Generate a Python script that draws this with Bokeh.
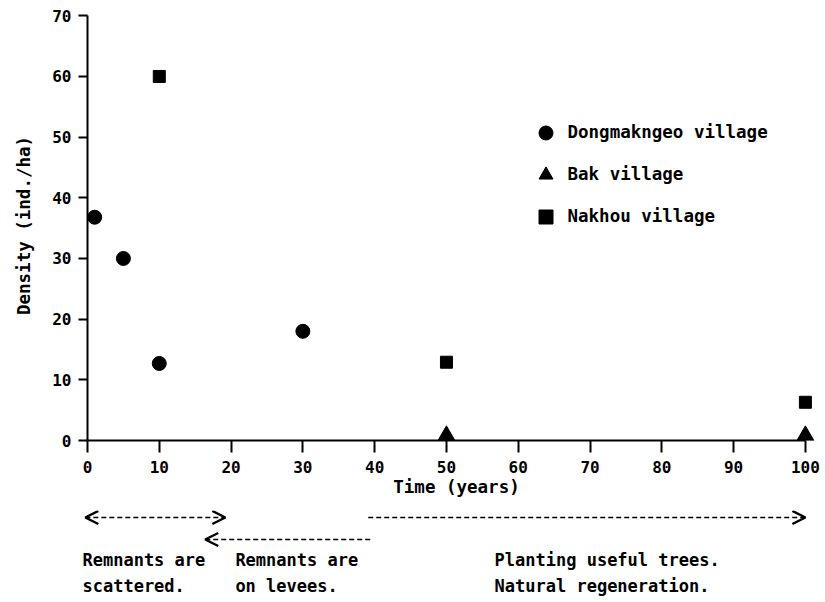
from bokeh.plotting import figure
from bokeh.models import (Range1d, LinearAxis, FixedTicker, Legend, LegendItem,
                          Arrow, OpenHead)
from bokeh.embed import file_html
from bokeh.resources import INLINE
from bokeh.core.properties import value

# ---------------- data ----------------
series_names = ["Dongmakngeo village", "Bak village", "Nakhou village"]
dong_years = [1, 5, 10, 30]
dong_density = [36.8, 30, 12.7, 18]
bak_years = [50, 100]
bak_density = [0.8, 0.8]
nakhou_years = [10, 50, 100]
nakhou_density = [60, 12.9, 6.3]

x_ticks = [0, 10, 20, 30, 40, 50, 60, 70, 80, 90, 100]
y_ticks = [0, 10, 20, 30, 40, 50, 60, 70]

period_start = [-0.3, 16.4, 39.1]
period_end = [19.2, 39.6, 100]
period_heads = ["both", "start", "end"]
period_labels = ["Remnants are\nscattered.",
                 "Remnants are\non levees.",
                 "Planting useful trees.\nNatural regeneration."]

# ---------------- layout ----------------
FONT = "DejaVu Sans Mono"
W = 825
H1 = 510
H2 = 92
LEFT = 87
X_END = 102.8
Y_END = 70.87
ppu = (W - LEFT) / X_END

p = figure(width=W, height=H1, x_range=Range1d(0, X_END), y_range=Range1d(0, Y_END),
           output_backend="svg", toolbar_location=None,
           x_axis_type=None, y_axis_type=None,
           min_border_left=LEFT, min_border_right=0, min_border_top=10, min_border_bottom=70)
p.outline_line_color = None
p.background_fill_color = "white"
p.border_fill_color = "white"

xaxis = LinearAxis(ticker=FixedTicker(ticks=x_ticks), bounds=(0, 100), axis_label="Time (years)")
yaxis = LinearAxis(ticker=FixedTicker(ticks=y_ticks), bounds=(0, 70), axis_label="Density (ind./ha)")
for ax in (xaxis, yaxis):
    ax.axis_line_color = "black"
    ax.axis_line_width = 2
    ax.major_tick_line_color = "black"
    ax.major_tick_line_width = 2
    ax.major_tick_in = 0
    ax.minor_tick_line_color = None
    ax.major_label_text_font = FONT
    ax.major_label_text_font_style = "bold"
    ax.major_label_text_font_size = "16px"
    ax.major_label_text_color = "black"
    ax.axis_label_text_font = FONT
    ax.axis_label_text_font_style = "bold"
    ax.axis_label_text_font_size = "17.5px"
    ax.axis_label_text_color = "black"
xaxis.major_tick_out = 12
xaxis.major_label_standoff = 8
xaxis.axis_label_standoff = 1
yaxis.major_tick_out = 9
yaxis.major_label_standoff = 7
yaxis.axis_label_standoff = 15
p.add_layout(xaxis, "below")
p.add_layout(yaxis, "left")

r1 = p.scatter(dong_years, dong_density, marker="circle", size=14, color="black")
r2 = p.scatter(bak_years, bak_density, marker="triangle", size=17, color="black")
r3 = p.scatter(nakhou_years, nakhou_density, marker="square", size=12, color="black")

legend = Legend(items=[LegendItem(label=series_names[0], renderers=[r1]),
                       LegendItem(label=series_names[1], renderers=[r2]),
                       LegendItem(label=series_names[2], renderers=[r3])],
                location=(440.5, 206.5), orientation="vertical",
                glyph_width=35, glyph_height=35, label_height=35, spacing=7,
                label_standoff=5, padding=0, margin=0,
                border_line_alpha=0, background_fill_alpha=0,
                label_text_font=FONT, label_text_font_style="bold",
                label_text_font_size="17.5px", label_text_color="black")
p.add_layout(legend)

# ---------------- periods below the axis (separate root, same x scale) ----------------
p2 = figure(width=W, height=H2, x_range=Range1d(-LEFT / ppu, X_END), y_range=Range1d(H2, 0),
            output_backend="svg", toolbar_location=None,
            x_axis_type=None, y_axis_type=None,
            min_border_left=0, min_border_right=0, min_border_top=0, min_border_bottom=0)
p2.outline_line_color = None
p2.background_fill_color = "white"
p2.border_fill_color = "white"

arrow_rows = [7, 29, 7]
for xs, xe, heads, yr in zip(period_start, period_end, period_heads, arrow_rows):
    start_head = OpenHead(size=13, line_width=2.5, line_color="black") if heads in ("both", "start") else None
    end_head = OpenHead(size=13, line_width=2.5, line_color="black") if heads in ("both", "end") else None
    p2.add_layout(Arrow(x_start=xs, y_start=yr, x_end=xe, y_end=yr,
                        start=start_head, end=end_head,
                        line_dash="5 3", line_width=1.6, line_color="black"))

label_x = [-0.7, 20.6, 56.7]
line_rows = [49, 75]
tx, ty, tt = [], [], []
for lx, lab in zip(label_x, period_labels):
    for row, line in zip(line_rows, lab.split("\n")):
        tx.append(lx)
        ty.append(row)
        tt.append(line)
p2.text(x=tx, y=ty, text=tt, text_font=value(FONT), text_font_style="bold",
        text_font_size="17px", text_baseline="middle", text_align="left",
        text_color="black")

open("out.html", "w").write(file_html([p, p2], INLINE))
